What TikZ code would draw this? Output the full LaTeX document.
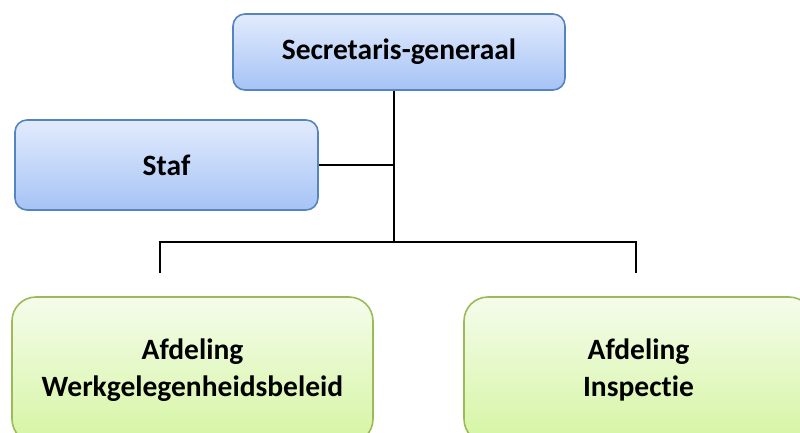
\documentclass[tikz,border=0pt]{standalone}
\usepackage{fontspec}
\setmainfont[Ligatures=NoCommon]{Carlito}
\definecolor{bluetop}{HTML}{E2EBFD}
\definecolor{bluebot}{HTML}{A6C3F5}
\definecolor{blueline}{HTML}{5585C0}
\definecolor{greentop}{HTML}{F5FCEB}
\definecolor{greenbot}{HTML}{D5F5A3}
\definecolor{greenline}{HTML}{9BBB59}
\tikzset{
  bluebox/.style={rectangle, rounded corners=12pt, draw=blueline, line width=1.6pt,
    top color=bluetop, bottom color=bluebot, font=\fontsize{29.5}{36}\selectfont\bfseries,
    align=center, inner sep=0pt},
  greenbox/.style={rectangle, rounded corners=24pt, draw=greenline, line width=1.6pt,
    top color=greentop, bottom color=greenbot, font=\fontsize{29.5}{37}\selectfont\bfseries,
    align=center, inner sep=0pt},
  conn/.style={draw=black, line width=2pt}
}
\begin{document}
\begin{tikzpicture}[x=1pt,y=-1pt]
\useasboundingbox (0,0) rectangle (800,433);
\clip (0,0) rectangle (800,433);
\node[bluebox, minimum width=332pt, minimum height=76pt] (sg) at (399,52) {Secretaris-generaal};
\node[bluebox, minimum width=303pt, minimum height=90pt] (staf) at (166.5,165) {Staf};
\node[greenbox, minimum width=361pt, minimum height=146pt] (aw) at (192.5,370) {Afdeling\\Werkgelegenheidsbeleid};
\node[greenbox, minimum width=349pt, minimum height=146pt] (ai) at (638.5,370) {Afdeling\\Inspectie};
\coordinate (j) at (394,242);
\coordinate (cl) at (160,242);
\coordinate (cr) at (636,242);
\coordinate (el) at (160,273);
\coordinate (er) at (636,273);
\draw[conn] (sg.south -| j) -- (j);
\draw[conn] (staf.east) -- (staf.east -| j);
\draw[conn] (el) -- (cl) -- (cr) -- (er);
\end{tikzpicture}
\end{document}
